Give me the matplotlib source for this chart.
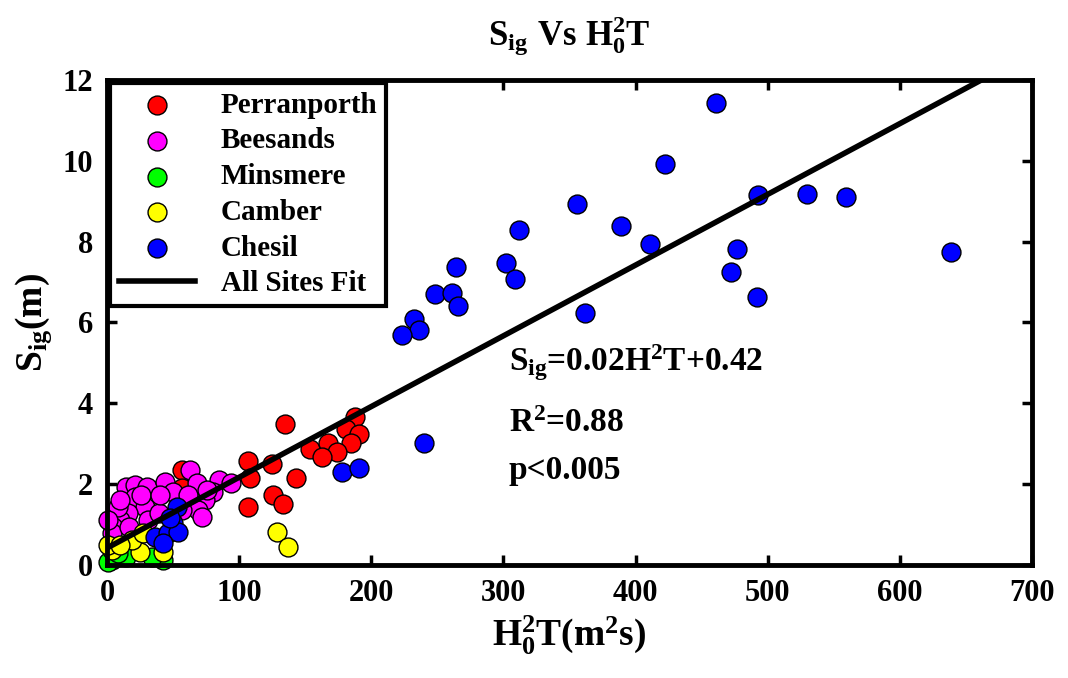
import matplotlib
matplotlib.use('Agg')
import matplotlib.pyplot as plt
import numpy as np

# site data: H0^2 T (m^2 s) and S_ig (m)
perran_x = [135, 188, 181, 191, 185, 154, 167, 174, 163, 107, 125, 108, 143, 126, 133, 107, 57, 39, 57]
perran_y = [3.49, 3.66, 3.36, 3.24, 3.02, 2.87, 3.02, 2.80, 2.67, 2.57, 2.50, 2.15, 2.15, 1.73, 1.51, 1.43, 2.35, 1.86, 1.90]

bees_x = [63, 68, 85, 94, 80, 74, 69, 72, 14, 21, 30, 44, 50, 21, 29, 16, 10, 4.5, 3.8, 8, 1,
          17, 31, 39, 57, 61, 76, 26, 40, 10]
bees_y = [2.35, 2.03, 2.10, 2.03, 1.81, 1.62, 1.36, 1.19, 1.93, 1.98, 1.93, 2.05, 1.81, 1.68, 1.43,
          1.28, 1.11, 0.94, 0.79, 1.43, 1.11, 0.94, 1.11, 1.28, 1.36, 1.73, 1.86, 1.73, 1.73, 1.60]

mins_x = [42, 4, 0.5, 14, 34, 8]
mins_y = [0.12, 0.12, 0.07, 0.20, 0.20, 0.30]

camber_x = [129, 137, 4, 25, 42, 19, 27, 1, 10]
camber_y = [0.82, 0.45, 0.37, 0.32, 0.32, 0.62, 0.79, 0.50, 0.50]

chesil_x = [461, 422, 356, 389, 312, 411, 493, 530, 559, 477, 472, 492, 639, 362, 240, 178, 191,
            264, 302, 309, 248, 261, 266, 232, 236, 223,
            53, 50, 36, 46, 54, 42, 48]
chesil_y = [11.43, 9.92, 8.93, 8.39, 8.29, 7.94, 9.15, 9.18, 9.10, 7.82, 7.25, 6.63, 7.74, 6.23, 3.02,
            2.30, 2.40, 7.37, 7.46, 7.07, 6.70, 6.74, 6.41, 6.09, 5.81, 5.69,
            1.43, 1.04, 0.69, 0.79, 0.82, 0.54, 1.16]

fit_slope = 0.0175
fit_intercept = 0.42

plt.rcParams['font.family'] = 'Liberation Serif'
plt.rcParams['font.weight'] = 'bold'
plt.rcParams['mathtext.fontset'] = 'custom'
plt.rcParams['mathtext.rm'] = 'Liberation Serif:bold'
plt.rcParams['mathtext.it'] = 'Liberation Serif:bold'
plt.rcParams['mathtext.bf'] = 'Liberation Serif:bold'

fig = plt.figure(figsize=(10.68, 6.78), dpi=100)
ax = fig.add_axes([0.1002, 0.1667, 0.866, 0.7153])

ms = 185
kw = dict(s=ms, edgecolors='black', linewidths=1, zorder=3, clip_on=False)
ax.scatter(perran_x, perran_y, c='red', label='Perranporth', **kw)
ax.scatter(bees_x, bees_y, c='magenta', label='Beesands', **kw)
ax.scatter(mins_x, mins_y, c='lime', label='Minsmere', **kw)
ax.scatter(camber_x, camber_y, c='yellow', label='Camber', **kw)
ax.scatter(chesil_x, chesil_y, c='blue', label='Chesil', **kw)

xf = np.array([0, 700])
ax.plot(xf, fit_slope * xf + fit_intercept, color='black', lw=4, label='All Sites Fit', zorder=4)

ax.set_xlim(0, 700)
ax.set_ylim(0, 12)
ax.set_xticks(range(0, 701, 100))
ax.set_yticks(range(0, 13, 2))
ax.tick_params(direction='in', length=7, width=2.5, top=True, right=True, labelsize=22, pad=10)
for sp in ax.spines.values():
    sp.set_linewidth(3.5)
    sp.set_zorder(5)

ax.set_title(r'$\mathrm{S_{ig}\ Vs\ H_0^2T}$', fontsize=25, pad=25)
ax.set_xlabel(r'$\mathrm{H_0^2T(m^2s)}$', fontsize=27, labelpad=4)
ax.set_ylabel(r'$\mathrm{S_{ig}(m)}$', fontsize=27, labelpad=6)

ax.text(304, 5.0, r'S$_{ig}$=0.02H$^2$T+0.42', fontsize=24, va='center')
ax.text(304, 3.5, r'R$^2$=0.88', fontsize=24, va='center')
ax.text(304, 2.35, 'p<0.005', fontsize=24, va='center')

leg = ax.legend(loc='upper left', fontsize=21, frameon=True, fancybox=False, edgecolor='black',
                framealpha=1, borderaxespad=0.1, handlelength=2.6, labelspacing=0.3,
                handletextpad=0.9, borderpad=0.3, markerscale=1)
leg.get_frame().set_linewidth(3)
leg.set_zorder(6)

fig.savefig('out.png', dpi=100)
